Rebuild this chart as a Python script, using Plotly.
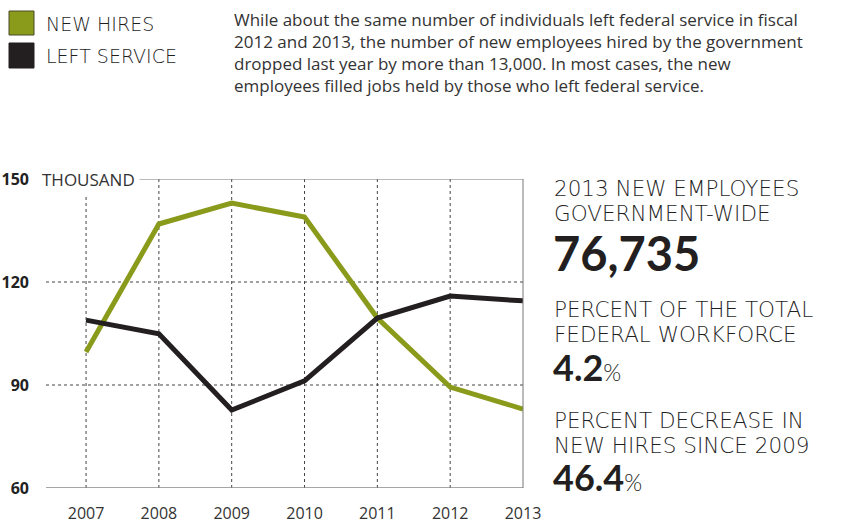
import plotly.graph_objects as go

years = [2007, 2008, 2009, 2010, 2011, 2012, 2013]
new_hires = [99.6, 136.9, 143.0, 138.9, 109.5, 89.4, 83.0]
left_service = [108.9, 104.9, 82.7, 91.2, 109.5, 115.9, 114.5]
y_ticks = [60, 90, 120, 150]
GREEN = "#8a9a1b"
DARK = "#231f20"
TXT = "#333333"
LTXT = "#1f1f1f"

# plot area in pixels
L, R, T, B = 46, 523, 179, 488
W, H = 842, 525

def px(x):
    return (x - L) / (R - L)

def py(y):
    return (B - y) / (B - T)

fig = go.Figure()
fig.add_trace(go.Scatter(x=years, y=new_hires, mode="lines", name="NEW HIRES",
                         line=dict(color=GREEN, width=5), cliponaxis=False))
fig.add_trace(go.Scatter(x=years, y=left_service, mode="lines", name="LEFT SERVICE",
                         line=dict(color=DARK, width=5), cliponaxis=False))

shapes = []
for yr in years[:-1]:
    shapes.append(dict(type="line", xref="x", yref="y", x0=yr, x1=yr, y0=60, y1=150,
                       line=dict(color="#444", width=1, dash="dot"), layer="below"))
for v in [90, 120]:
    shapes.append(dict(type="line", xref="paper", yref="y", x0=0, x1=1, y0=v, y1=v,
                       line=dict(color="#444", width=1, dash="dot"), layer="below"))
# top line, bottom axis, right border
shapes.append(dict(type="line", xref="paper", yref="y", x0=0, x1=1, y0=150, y1=150,
                   line=dict(color="#777", width=1)))
shapes.append(dict(type="line", xref="paper", yref="y", x0=0, x1=1, y0=60, y1=60,
                   line=dict(color="#888", width=1.5)))
shapes.append(dict(type="line", xref="paper", yref="y", x0=1, x1=1, y0=60, y1=150,
                   line=dict(color="#777", width=1)))
# legend swatches
shapes.append(dict(type="rect", xref="paper", yref="paper", x0=px(9), x1=px(34), y0=py(35), y1=py(11),
                   fillcolor=GREEN, line=dict(color="#4a4a2a", width=1)))
shapes.append(dict(type="rect", xref="paper", yref="paper", x0=px(9), x1=px(34), y0=py(68), y1=py(43),
                   fillcolor=DARK, line=dict(color=DARK, width=1)))

LIGHT = "DejaVu Sans"
BOLD = "Lato"
anns = []
def ann(text, x, y, size, color=LTXT, family=LIGHT, weight=None, xanchor="left", bg=None, align="left"):
    f = dict(size=size, color=color, family=family)
    if weight:
        f["weight"] = weight
    d = dict(text=text, xref="paper", yref="paper", x=px(x), y=py(y), xanchor=xanchor,
             yanchor="middle", showarrow=False, font=f, align=align, borderpad=0)
    if bg:
        d["bgcolor"] = bg
        d["borderpad"] = 4
    anns.append(d)

ann("NEW HIRES", 45, 24, 19, weight=200)
ann("LEFT SERVICE", 45, 56, 19, weight=200)
ann("While about the same number of individuals left federal service in fiscal<br>"
    "2012 and 2013, the number of new employees hired by the government<br>"
    "dropped last year by more than 13,000. In most cases, the new<br>"
    "employees filled jobs held by those who left federal service.",
    233, 53, 17, color=TXT, family="Open Sans")
ann("THOUSAND", 37, 179, 17, color=TXT, family="Open Sans", bg="white")

ann("2013 NEW EMPLOYEES", 553, 189, 21.5, weight=200)
ann("GOVERNMENT-WIDE", 553, 213, 21.5, weight=200)
ann("<b>76,735</b>", 552, 253, 47, family=BOLD, weight=900, color=DARK)
ann("PERCENT OF THE TOTAL", 553, 309, 21.5, weight=200)
ann("FEDERAL WORKFORCE", 553, 334, 21.5, weight=200)
ann("<b>4.2</b><span style='font-size:23px;font-weight:300'>%</span>", 552, 367, 36, family=BOLD, weight=900, color=DARK)
ann("PERCENT DECREASE IN", 553, 420, 21.5, weight=200)
ann("NEW HIRES SINCE 2009", 553, 445, 21.5, weight=200)
ann("<b>46.4</b><span style='font-size:23px;font-weight:300'>%</span>", 552, 477, 36, family=BOLD, weight=900, color=DARK)

fig.update_layout(
    width=W, height=H,
    margin=dict(l=L, r=W - R, t=T, b=H - B, pad=0),
    plot_bgcolor="white", paper_bgcolor="white",
    showlegend=False,
    shapes=shapes, annotations=anns,
    xaxis=dict(range=[2006.45, 2013], tickvals=years, ticktext=[str(y) for y in years],
               showgrid=False, zeroline=False, showline=False, ticks="", automargin=False,
               tickfont=dict(family="Open Sans", size=16, color=TXT), ticklabelstandoff=14,
               fixedrange=True),
    yaxis=dict(range=[60, 150], tickvals=y_ticks, showgrid=False, zeroline=False,
               showline=False, ticks="", automargin=False,
               tickfont=dict(family="Open Sans", size=16, color="#222", weight="bold"),
               ticklabelstandoff=16, fixedrange=True),
)

fig.write_html("out.html")
